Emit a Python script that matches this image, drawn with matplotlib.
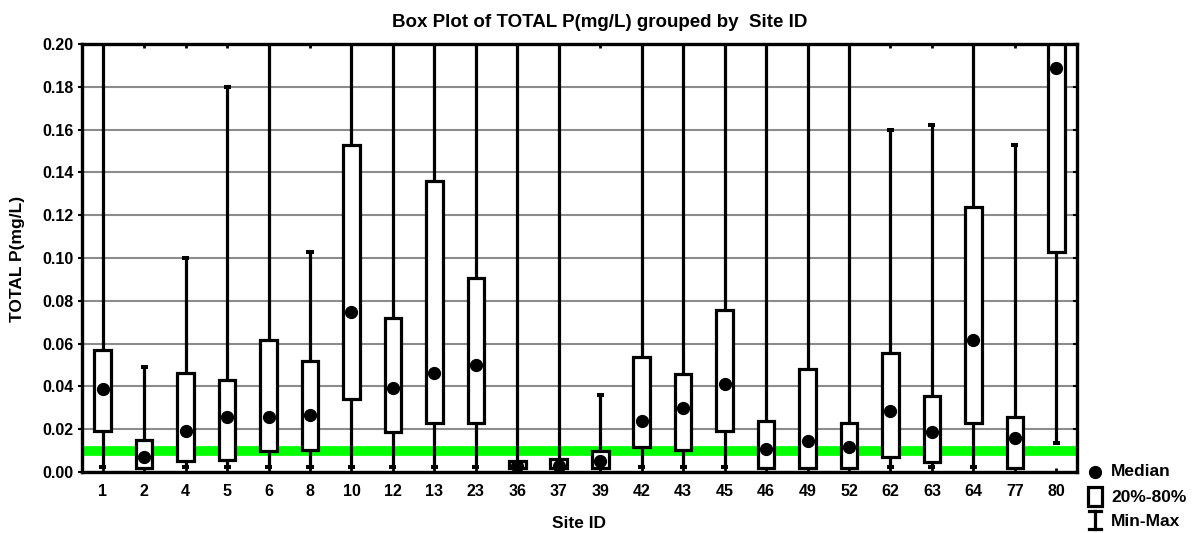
import matplotlib
matplotlib.use("Agg")
import matplotlib.pyplot as plt
from matplotlib.patches import Rectangle
from matplotlib.lines import Line2D

plt.rcParams['font.family'] = ['Liberation Sans', 'DejaVu Sans']
plt.rcParams['font.weight'] = 'bold'

# Site IDs and summary statistics of total phosphorus (mg/L)
sites = ["1", "2", "4", "5", "6", "8", "10", "12", "13", "23", "36", "37",
         "39", "42", "43", "45", "46", "49", "52", "62", "63", "64", "77", "80"]
p_min = [0.0025, 0.002, 0.0025, 0.0025, 0.0025, 0.0025, 0.0025, 0.0025,
         0.0025, 0.0025, 0.002, 0.002, 0.002, 0.0025, 0.0025, 0.0025,
         0.002, 0.002, 0.002, 0.0025, 0.0025, 0.0025, 0.002, 0.0137]
p20 = [0.0192, 0.002, 0.0051, 0.0056, 0.0098, 0.0103, 0.034, 0.0185,
       0.0227, 0.0227, 0.002, 0.002, 0.002, 0.0118, 0.0103, 0.0193,
       0.002, 0.002, 0.002, 0.0069, 0.0048, 0.0227, 0.002, 0.1027]
median = [0.0388, 0.0069, 0.0193, 0.0256, 0.0256, 0.0268, 0.0748, 0.0394,
          0.0461, 0.050, 0.0028, 0.003, 0.0051, 0.024, 0.0299, 0.041,
          0.0109, 0.0146, 0.0115, 0.0287, 0.0188, 0.0617, 0.016, 0.189]
p80 = [0.057, 0.015, 0.0463, 0.0428, 0.0617, 0.0519, 0.1527, 0.0721,
       0.136, 0.0908, 0.005, 0.0059, 0.0098, 0.0539, 0.0458, 0.0757,
       0.0238, 0.048, 0.0227, 0.0558, 0.0354, 0.1237, 0.0259, 0.26]
p_max = [0.42, 0.049, 0.100, 0.180, 0.35, 0.103, 0.50, 0.38,
         0.45, 0.30, 0.62, 0.55, 0.036, 0.33, 0.29, 0.40,
         0.31, 0.36, 0.27, 0.160, 0.162, 0.44, 0.153, 0.34]
y_ticks = [0.00, 0.02, 0.04, 0.06, 0.08, 0.10, 0.12, 0.14, 0.16, 0.18, 0.20]
guideline = 0.01

W, H = 1199, 533
fig = plt.figure(figsize=(W / 100, H / 100), dpi=100)
ax = fig.add_axes([82 / W, 1 - 472 / H, 995 / W, 428 / H])

lw = 2.3
box_w = 0.40
cap_w = 0.17
x = list(range(len(sites)))

ax.axhline(guideline, color="#00ff00", lw=7, zorder=1.5, solid_capstyle="butt")

for i in x:
    # whiskers
    ax.plot([i, i], [p_min[i], p20[i]], color="black", lw=lw, zorder=2,
            solid_capstyle="butt")
    ax.plot([i, i], [p80[i], p_max[i]], color="black", lw=lw, zorder=2,
            solid_capstyle="butt")
    # caps
    ax.plot([i - cap_w / 2, i + cap_w / 2], [p_min[i]] * 2, color="black",
            lw=lw + 0.6, zorder=2, solid_capstyle="butt")
    ax.plot([i - cap_w / 2, i + cap_w / 2], [p_max[i]] * 2, color="black",
            lw=lw + 0.6, zorder=2, solid_capstyle="butt")
    # 20%-80% box
    ax.add_patch(Rectangle((i - box_w / 2, p20[i]), box_w, p80[i] - p20[i],
                           facecolor="white", edgecolor="black", lw=lw,
                           zorder=3, joinstyle="miter"))

ax.plot(x, median, "o", color="black", markersize=8.5, zorder=4, ls="none")

ax.set_xlim(-0.5, len(sites) - 0.5)
ax.set_ylim(0, 0.20)
ax.set_xticks(x)
ax.set_xticklabels(sites)
ax.set_yticks(y_ticks)
ax.set_yticklabels([f"{v:.2f}" for v in y_ticks])
ax.yaxis.grid(True, color="#8c8c8c", lw=1.5, zorder=0)
ax.set_axisbelow(True)

for s in ax.spines.values():
    s.set_linewidth(2.4)
    s.set_zorder(5)

ax.tick_params(axis="x", direction="in", length=3, width=2, top=True,
               labelsize=11.5, pad=9)
ax.tick_params(axis="y", direction="out", length=3, width=1.5, right=True,
               labelsize=11.5, pad=3)
for t in ax.yaxis.get_major_ticks():
    t.tick2line.set_marker(matplotlib.lines.TICKLEFT)

ax.set_xlabel("Site ID", fontsize=12.5, fontweight="bold", va="center")
ax.xaxis.set_label_coords(0.5, (472 - 524) / 428)
ax.set_ylabel("TOTAL P(mg/L)", fontsize=12.5, fontweight="bold", va="center")
ax.yaxis.set_label_coords((18 - 82) / 995, (472 - 259) / 428)
fig.text(0.5, 1 - 22 / H, "Box Plot of TOTAL P(mg/L) grouped by  Site ID",
         ha="center", va="center", fontsize=13.5, fontweight="bold")

# legend drawn in figure pixels
def fx(px):
    return px / W
def fy(py):
    return 1 - py / H

fig.add_artist(Line2D([fx(1095)], [fy(472)], marker="o", color="black",
                      markersize=8.5, ls="none"))
fig.text(fx(1111), fy(472), "Median", ha="left", va="center", fontsize=12.5,
         fontweight="bold")
fig.add_artist(Rectangle((fx(1088), fy(506)), fx(14), 19 / H,
                         facecolor="white", edgecolor="black", lw=2.3,
                         transform=fig.transFigure))
fig.text(fx(1111), fy(497), "20%-80%", ha="left", va="center", fontsize=12.5,
         fontweight="bold")
fig.add_artist(Line2D([fx(1095), fx(1095)], [fy(511), fy(529)], color="black",
                      lw=2.3))
fig.add_artist(Line2D([fx(1089), fx(1101)], [fy(511), fy(511)], color="black",
                      lw=2.3))
fig.add_artist(Line2D([fx(1089), fx(1101)], [fy(529), fy(529)], color="black",
                      lw=2.3))
fig.text(fx(1111), fy(521), "Min-Max", ha="left", va="center", fontsize=12.5,
         fontweight="bold")

fig.savefig("out.png", dpi=100)
